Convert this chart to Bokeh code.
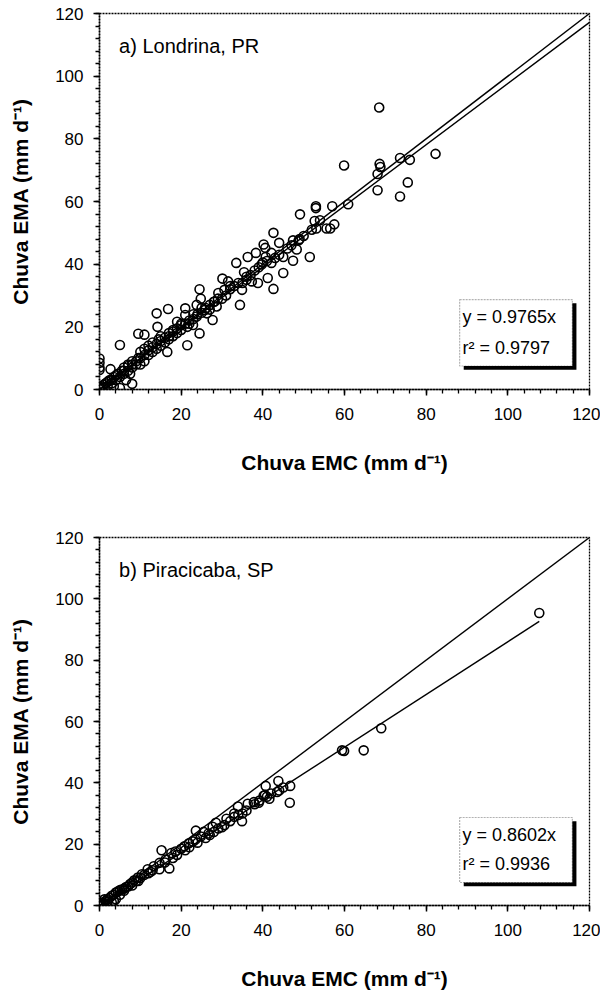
from bokeh.plotting import figure
from bokeh.layouts import column
from bokeh.models import Range1d, SingleIntervalTicker, BoxAnnotation, Label
from bokeh.embed import file_html
from bokeh.resources import INLINE

# ---------------- data ----------------
axis_ticks_interval = 20
axis_min, axis_max = 0, 120

# a) Londrina, PR : Chuva EMC (x) vs Chuva EMA (y), mm/d
lon_x = [0,0.3,0.5,0,0,0,0,1,1,1.5,2,2,2.5,2.7,3,3,3.5,3.5,4,4,4.5,5,5,5,5.5,6,6,6,6.5,7,7,7,7.5,8,8,8,8,9,9,9.5,9.5,10,10,10,11,11,11,11,12,12,12,13,13,13,14,14,14,14.2,14.5,15,15,15,16,16,16.6,16.8,17,17,17,18,18,18,19,19,19,20,20,20,21,21,21.5,21.5,21,22,22,22.9,23,23,23.8,23.8,24,24.5,24.5,24.8,25,25,25.8,26,26.3,27,27,27.7,28,28.2,28.7,29,29.1,30,30.1,30.6,31,31.5,32,32,33,33.5,34,34.4,34.9,35,35.4,36,36,36.3,37,37.3,38,38.3,38.8,39,39.7,40,40.2,40.6,40.7,41,41.2,42.1,42.1,42.6,42.6,43,44,44,45,45,46,47,47.4,47.4,48.3,48.8,49,49.1,50,51.5,52,52.7,53,53,53.1,54,55.6,56.5,57,57.5,59.9,60.9,68.1,68.1,68.5,68.6,68.8,73.6,73.6,75.5,76,82.3]
lon_y = [0.5,0.2,1,6.2,7,8.5,9.9,0.5,1.5,2,1,2.5,3,6.5,2,3,4,1,3,4.5,5,0.5,4,14.2,6,5,6,7,3,8,6,7.5,5,1.8,9,7,8,8,9,10,17.8,12,8,10,13,17.5,9,11,11,14,12.5,12,15,13.5,24.3,13,14.5,20,16,17,14,15.5,15,16.5,12,25.7,18,16,17,19,17,18.5,21.6,18,19.5,21,19,20.5,25.9,23.8,14.1,20,21,22,21,20.6,24,22.5,27,23.3,24,32,17.9,29,26,24.5,25.4,26,24.3,27,25.5,22.2,28,28.1,26.5,29,30.8,29,35.4,31.8,30,34.5,32,33,33,40.4,34,27,31.8,34,37.4,35,36,42.3,36.5,34.5,38,43.6,34,39,39.9,40.5,46.3,45.2,42.3,41,35.6,43.6,40.4,50,32.1,42,46.8,43,42.3,37.2,45,46,47.6,41.1,44.7,47.6,48,55.9,49,42.3,51,53.8,58.5,57.9,51.4,54,51.4,51.4,58.5,52.7,71.5,59.1,68.8,63.6,90,72,71,73.9,61.6,66.1,73.3,75.2]
lon_slope = 0.9765
lon_r2 = 0.9797
lon_title = "a) Londrina, PR"

# b) Piracicaba, SP
pir_x = [107.7,69,64.7,59.4,59.9,46.7,46.6,43.8,43.5,45,40.7,40.5,41.6,42,40.2,39.2,37.8,36.3,33.9,34.9,33,34,31.1,30.6,29.1,28.5,27.7,26.7,25.5,24.8,23.6,23.5,22.9,21.9,20.8,20,18.6,17.6,15.2,17.1,16.2,16,14.7,14.7,13.3,12.5,11.8,11,10.4,9.4,9,8.5,8,7.5,7,6.5,6,5.5,5,4.5,4,4,3.5,3.5,3,3,2.5,2,2,1.5,1,1,0.5,0.3,0,0.2,0,0.6,1.2,5,6,8,9.5,10,12,13,18,19,21,22,24,26,27,28,30,32,33,35,36,38,39,41,44]
pir_y = [95.4,57.8,50.6,50.6,50.4,39,33.5,40.6,37,38.5,39,36,34.8,36.5,35.8,34.2,33.7,33.2,32.3,27.5,28.9,29.5,28.3,26.2,25.1,27,25.7,23.5,24,22.5,24.4,21.5,20.9,20.3,19.3,18.5,17.6,17.1,18,12.1,15,14,13.9,11.8,12.8,11,11.8,10,10.2,9.1,8,8.2,7.5,7,6.2,6,5.5,5.2,5,4.6,4.2,2,3.5,1.5,3.2,1,2.5,2,1.2,1.5,1,0.5,0.5,0.2,0,1,0.5,0.2,2,3.5,4.8,6.5,8,9,10.5,11.5,15.5,16.5,18,19,20.5,22,23,24,25.5,27.5,30,30,31,33,33.5,35.5,37.5]
pir_slope = 0.8602
pir_r2 = 0.9936
pir_title = "b) Piracicaba, SP"

x_title = "Chuva EMC (mm d\u207b\u00b9)"
y_title = "Chuva EMA (mm d\u207b\u00b9)"

FONT = "Liberation Sans"


def make_panel(xs, ys, slope, r2, title, fit_end, height, b_top, b_bottom):
    p = figure(width=600, height=height, output_backend="svg", toolbar_location=None,
               x_range=Range1d(axis_min, axis_max), y_range=Range1d(axis_min, axis_max),
               min_border_left=99, min_border_right=11,
               min_border_top=b_top, min_border_bottom=b_bottom)
    p.grid.visible = False
    p.outline_line_color = "black"
    p.outline_line_width = 1.3
    p.outline_line_dash = "2 1"
    p.background_fill_color = "white"
    p.border_fill_color = "white"

    for ax in (p.xaxis[0], p.yaxis[0]):
        ax.ticker = SingleIntervalTicker(interval=axis_ticks_interval, num_minor_ticks=5)
        ax.axis_line_color = "black"
        ax.axis_line_width = 1.6
        ax.axis_line_dash = "2 1"
        ax.major_tick_out = 6
        ax.major_tick_in = 0
        ax.minor_tick_out = 4
        ax.minor_tick_in = 0
        ax.major_tick_line_width = 1.5
        ax.minor_tick_line_width = 1.3
        ax.major_tick_line_color = "black"
        ax.minor_tick_line_color = "black"
        ax.major_label_text_font = FONT
        ax.major_label_text_font_size = "17px"
        ax.major_label_text_color = "black"
        ax.axis_label_text_font = FONT
        ax.axis_label_text_font_style = "bold"
        ax.axis_label_text_font_size = "21px"
        ax.axis_label_text_color = "black"
    p.xaxis.axis_label = x_title
    p.yaxis.axis_label = y_title
    p.xaxis.major_label_standoff = 12
    p.xaxis.axis_label_standoff = 28
    p.yaxis.major_label_standoff = 10
    p.yaxis.axis_label_standoff = 20

    # 1:1 line and regression line
    p.line([axis_min, axis_max], [axis_min, axis_max], line_color="black", line_width=1.4)
    fx = [0, fit_end]
    p.line(fx, [slope * v for v in fx], line_color="black", line_width=1.4)

    p.scatter(xs, ys, marker="circle", size=9, fill_color=None,
              line_color="black", line_width=1.6)

    # equation box with shadow
    p.add_layout(BoxAnnotation(left=89.2, right=116.8, bottom=6.3, top=27.5,
                               fill_color="black", fill_alpha=1.0, line_color=None))
    p.add_layout(BoxAnnotation(left=88.2, right=115.8, bottom=7.5, top=28.7,
                               fill_color="white", fill_alpha=1.0, line_color="black",
                               line_width=1.2, line_dash="2 1"))
    p.add_layout(Label(x=88.9, y=23.0, text="y = %.4fx" % slope, text_font=FONT,
                       text_font_size="18px", text_baseline="middle", text_color="black"))
    p.add_layout(Label(x=88.9, y=13.4, text="r\u00b2 = %.4f" % r2, text_font=FONT,
                       text_font_size="18px", text_baseline="middle", text_color="black"))
    p.add_layout(Label(x=4.8, y=109.5, text=title, text_font=FONT,
                       text_font_size="20px", text_baseline="middle", text_color="black"))
    return p


p1 = make_panel(lon_x, lon_y, lon_slope, lon_r2, lon_title, axis_max, 510, 13, 121)
p2 = make_panel(pir_x, pir_y, pir_slope, pir_r2, pir_title, max(pir_x), 482, 27, 81)

layout = column(p1, p2, spacing=0)
open("out.html", "w").write(file_html(layout, INLINE))
